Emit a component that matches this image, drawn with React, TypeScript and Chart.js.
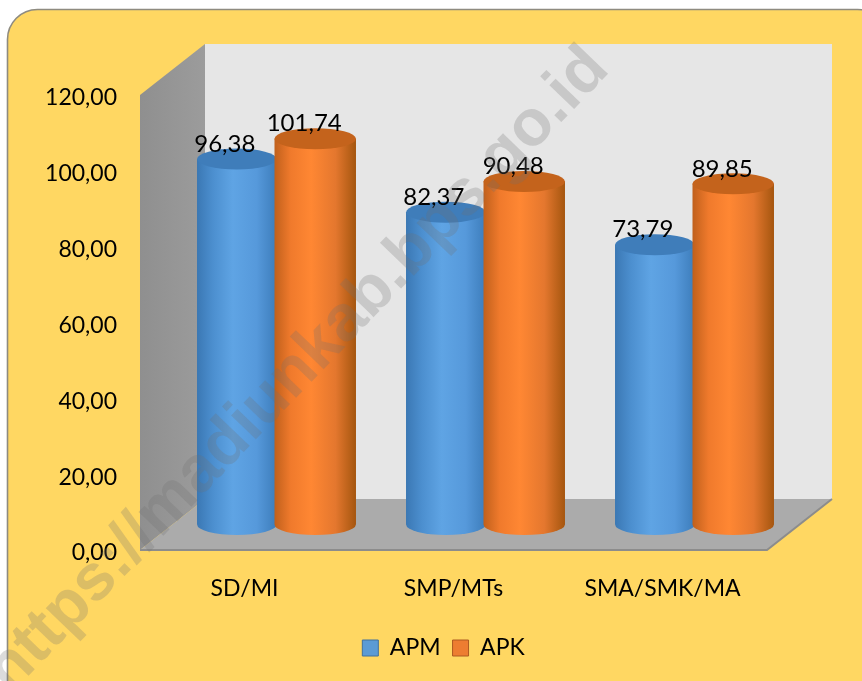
import React, { useEffect, useRef } from "react";
import { Chart, registerables } from "chart.js";

Chart.register(...registerables);

const categories = ["SD/MI", "SMP/MTs", "SMA/SMK/MA"];
const seriesNames = ["APM", "APK"];
const apm = [96.38, 82.37, 73.79];
const apk = [101.74, 90.48, 89.85];

const FONT = "Lato, 'Open Sans', sans-serif";
const fmt = (v: number) => v.toFixed(2).replace(".", ",");

const DX = 65;
const DY = 51;
const BAR_DX = 32;
const BAR_DY = 25.5;
const RY = 10.5;

const palettes = [
  { solid: "#5B9BD5", border: "#41719C", top: "#3F7DBA", stops: ["#3B78B4", "#4C8FCF", "#5FA4E4", "#5699DB", "#3D7DBB"] },
  { solid: "#ED7D31", border: "#AE5A21", top: "#C4631C", stops: ["#C0601C", "#F07A2C", "#FF8733", "#E4772E", "#A5560F"] },
];

const scene = {
  id: "scene",
  beforeDraw(chart: any) {
    const { ctx, width, height } = chart;
    ctx.save();
    ctx.fillStyle = "#fff";
    ctx.fillRect(0, 0, width, height);
    ctx.beginPath();
    ctx.roundRect(7.5, 9.5, 880, 700, 30);
    ctx.fillStyle = "#FFD762";
    ctx.fill();
    ctx.strokeStyle = "#8E8B80";
    ctx.lineWidth = 1.6;
    ctx.stroke();
    ctx.restore();
  },
  beforeDatasetsDraw(chart: any) {
    const { ctx, chartArea: a } = chart;
    const { left: l, right: r, top: t, bottom: b } = a;
    ctx.save();
    // back wall
    ctx.fillStyle = "#E6E6E6";
    ctx.fillRect(l + DX, t - DY, r - l, b - t);
    // left wall
    const lw = ctx.createLinearGradient(l, 0, l + DX, 0);
    lw.addColorStop(0, "#8F8F8F");
    lw.addColorStop(1, "#9C9C9C");
    ctx.fillStyle = lw;
    ctx.beginPath();
    ctx.moveTo(l, t);
    ctx.lineTo(l + DX, t - DY);
    ctx.lineTo(l + DX, b - DY);
    ctx.lineTo(l, b);
    ctx.closePath();
    ctx.fill();
    // floor
    ctx.fillStyle = "#ABABAB";
    ctx.beginPath();
    ctx.moveTo(l, b);
    ctx.lineTo(l + DX, b - DY);
    ctx.lineTo(r + DX, b - DY);
    ctx.lineTo(r, b);
    ctx.closePath();
    ctx.fill();
    ctx.strokeStyle = "#8C8C8C";
    ctx.lineWidth = 2;
    ctx.beginPath();
    ctx.moveTo(l, b);
    ctx.lineTo(r, b);
    ctx.lineTo(r + DX, b - DY);
    ctx.stroke();
    ctx.restore();
    // native bars are shifted into the depth of the box
    ctx.save();
    ctx.translate(BAR_DX, -BAR_DY);
  },
  afterDatasetsDraw(chart: any) {
    const { ctx } = chart;
    ctx.restore();
    ctx.save();
    chart.data.datasets.forEach((_: any, di: number) => {
      const p = palettes[di];
      chart.getDatasetMeta(di).data.forEach((el: any) => {
        const widen = di === 1 ? 2 : 0;
        const x0 = el.x - el.width / 2 + BAR_DX - widen;
        const x1 = el.x + el.width / 2 + BAR_DX;
        const cx = (x0 + x1) / 2;
        const rx = (x1 - x0) / 2;
        const yt = el.y - BAR_DY;
        const yb = el.base - BAR_DY;
        const g = ctx.createLinearGradient(x0, 0, x1, 0);
        [0, 0.2, 0.45, 0.75, 1].forEach((s, i) => g.addColorStop(s, p.stops[i]));
        ctx.fillStyle = g;
        ctx.beginPath();
        ctx.moveTo(x0, yt);
        ctx.lineTo(x0, yb);
        ctx.ellipse(cx, yb, rx, RY, 0, Math.PI, 0, true);
        ctx.lineTo(x1, yt);
        ctx.closePath();
        ctx.fill();
        ctx.fillStyle = p.top;
        ctx.beginPath();
        ctx.ellipse(cx, yt, rx, RY, 0, 0, Math.PI * 2);
        ctx.fill();
      });
    });
    ctx.fillStyle = "#000";
    ctx.font = `24px ${FONT}`;
    ctx.textAlign = "center";
    ctx.textBaseline = "middle";
    chart.data.datasets.forEach((ds: any, di: number) => {
      chart.getDatasetMeta(di).data.forEach((el: any, i: number) => {
        ctx.fillText(fmt(ds.data[i]), el.x + BAR_DX - 12, el.y - BAR_DY - 15);
      });
    });
    ctx.restore();
  },
  afterLayout(chart: any) {
    const lg = chart.legend;
    if (lg) {
      const shift = 443.5 - (lg.left + lg.right) / 2;
      lg.left += shift;
      lg.right += shift;
      lg.top = 647 - lg.height / 2;
      lg.bottom = lg.top + lg.height;
    }
  },
  afterDraw(chart: any) {
    const { ctx } = chart;
    ctx.save();
    ctx.translate(10, 695);
    ctx.rotate((-46.1 * Math.PI) / 180);
    ctx.font = "bold 65px 'Liberation Sans', sans-serif";
    ctx.textBaseline = "alphabetic";
    ctx.fillStyle = "rgba(110,110,110,0.25)";
    ctx.fillText("https://madiunkab.bps.go.id", 0, 0);
    ctx.restore();
  },
};

export default function App() {
  const ref = useRef<HTMLCanvasElement>(null);
  useEffect(() => {
    const chart = new Chart(ref.current!, {
      type: "bar",
      data: {
        labels: categories,
        datasets: [apm, apk].map((data, i) => ({
          label: seriesNames[i],
          data,
          backgroundColor: palettes[i].solid,
          borderColor: palettes[i].border,
          borderWidth: 1,
          categoryPercentage: 0.76,
          barPercentage: 1,
        })),
      },
      options: {
        responsive: false,
        animation: false,
        layout: { padding: { left: 0, right: 95, top: 95, bottom: 0 } },
        plugins: {
          tooltip: { enabled: false },
          legend: {
            position: "bottom",
            labels: {
              color: "#000",
              font: { family: FONT, size: 23 },
              boxWidth: 16,
              boxHeight: 16,
              padding: 12,
            },
          },
        },
        scales: {
          x: {
            grid: { display: false },
            border: { display: false },
            ticks: { color: "#000", font: { family: FONT, size: 23 }, padding: 17, maxRotation: 0, autoSkip: false },
            afterFit(s: any) {
              s.height = 131 - (s.chart.legend?.height ?? 0);
            },
          },
          y: {
            min: 0,
            max: 120,
            grid: { display: false },
            border: { display: false },
            ticks: {
              stepSize: 20,
              color: "#000",
              font: { family: FONT, size: 23 },
              padding: 15,
              labelOffset: 3,
              callback: (v: any) => fmt(Number(v)),
            },
            afterFit(s: any) {
              s.width = 140;
            },
          },
        },
      },
      plugins: [scene],
    } as any);
    return () => chart.destroy();
  }, []);
  return (
    <div style={{ position: "fixed", left: 0, top: 0, width: 862, height: 681 }}>
      <canvas ref={ref} width={862} height={681} style={{ display: "block" }} />
    </div>
  );
}
